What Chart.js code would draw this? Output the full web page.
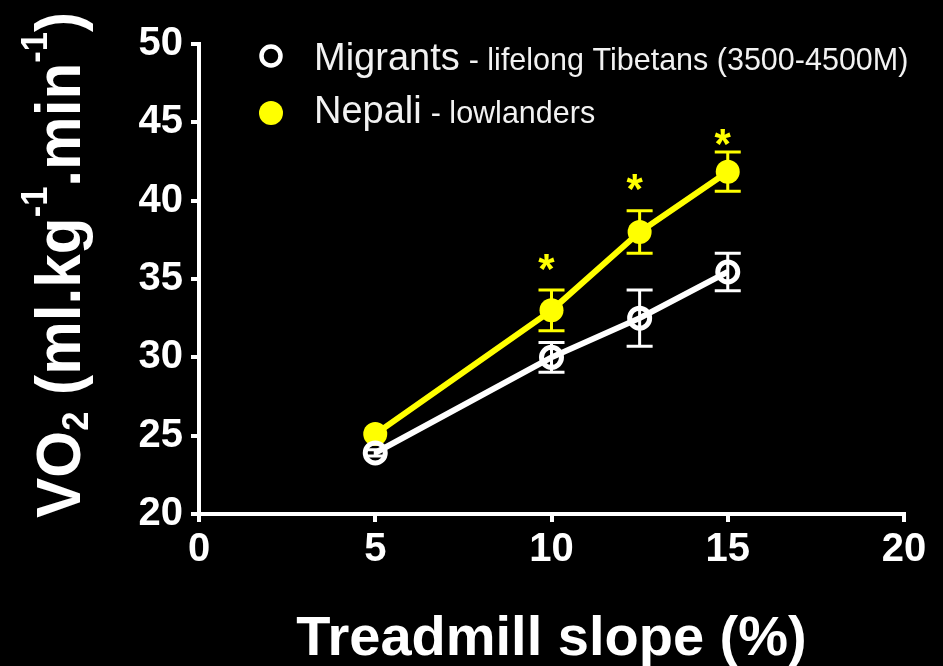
<html>
<head>
    <script src="https://cdn.jsdelivr.net/npm/chart.js@4.4.1/dist/chart.umd.min.js"></script>
    <style>
        body { margin: 0; background: #000; }
        #wrap { width: 943px; height: 666px; position: relative; }
    </style>
</head>
<body>
    <div id="wrap"><canvas id="vo2"></canvas></div>
<script>
    // treadmill slope (%) and VO2 means with their error bars
    var slope = [5, 10, 12.5, 15];
    var migrantsVO2 = [23.9, 30.0, 32.5, 35.45];
    var migrantsErr = [0.2, 0.95, 1.8, 1.2];
    var nepaliVO2 = [25.1, 33.0, 38.0, 41.85];
    var nepaliErr = [0.2, 1.3, 1.35, 1.25];
    // significance asterisks
    var starX = [10, 12.5, 15];
    var starY = [36.0, 41.1, 44.0];

    var yellow = '#ffff00';
    var font = '"Liberation Sans", Arial, sans-serif';

    function points(ys) {
        return slope.map(function(x, i) { return {x: x, y: ys[i]}; });
    }

    var errorBars = {
        id: 'errorBars',
        beforeDatasetsDraw: function(chart) {
            var ctx = chart.ctx, xs = chart.scales.x, ys = chart.scales.y;
            chart.data.datasets.forEach(function(ds) {
                ctx.save();
                ctx.strokeStyle = ds.borderColor;
                ctx.lineWidth = 3;
                ds.data.forEach(function(p, i) {
                    var e = ds.errors[i];
                    var px = xs.getPixelForValue(p.x);
                    var top = ys.getPixelForValue(p.y + e);
                    var bot = ys.getPixelForValue(p.y - e);
                    var cap = e < 0.5 ? 8 : 13;
                    ctx.beginPath();
                    ctx.moveTo(px, top); ctx.lineTo(px, bot);
                    ctx.moveTo(px - cap, top); ctx.lineTo(px + cap, top);
                    ctx.moveTo(px - cap, bot); ctx.lineTo(px + cap, bot);
                    ctx.stroke();
                });
                ctx.restore();
            });
        }
    };

    var extras = {
        id: 'extras',
        afterDraw: function(chart) {
            var ctx = chart.ctx, xs = chart.scales.x, ys = chart.scales.y, area = chart.chartArea;
            ctx.save();

            // asterisks
            ctx.fillStyle = yellow;
            ctx.font = 'bold 42px ' + font;
            ctx.textAlign = 'center';
            ctx.textBaseline = 'middle';
            starX.forEach(function(x, i) {
                ctx.fillText('*', xs.getPixelForValue(x) - 5, ys.getPixelForValue(starY[i]) + 8);
            });

            // legend
            ctx.textAlign = 'left';
            ctx.textBaseline = 'alphabetic';
            ctx.lineWidth = 4.5;
            ctx.strokeStyle = '#fff';
            ctx.beginPath(); ctx.arc(271, 56, 9.5, 0, Math.PI * 2); ctx.stroke();
            ctx.fillStyle = yellow;
            ctx.beginPath(); ctx.arc(271, 113, 12, 0, Math.PI * 2); ctx.fill();

            ctx.fillStyle = '#f2f2f2';
            var rows = [['Migrants', '- lifelong Tibetans (3500-4500M)', 70], ['Nepali', '- lowlanders', 123]];
            rows.forEach(function(r) {
                ctx.font = '38px ' + font;
                ctx.fillText(r[0], 314, r[2]);
                var w = ctx.measureText(r[0]).width;
                ctx.font = '30.5px ' + font;
                ctx.fillText(r[1], 314 + w + 9, r[2]);
            });

            // x axis title
            ctx.fillStyle = '#fff';
            ctx.font = 'bold 56px ' + font;
            ctx.textAlign = 'center';
            ctx.fillText('Treadmill slope (%)', (area.left + area.right) / 2, 655);

            // y axis title with sub/superscripts
            var parts = [
                ['VO', 63, 0], ['2', 36, 8], [' (ml.kg', 63, 0], ['-1', 36, -33],
                ['.min', 63, 0], ['-1', 36, -33], [')', 63, 0]
            ];
            ctx.textAlign = 'left';
            var total = 0;
            parts.forEach(function(p) {
                ctx.font = 'bold ' + p[1] + 'px ' + font;
                p.push(ctx.measureText(p[0]).width);
                total += p[3];
            });
            var sx = 506 / total;
            ctx.translate(80, 518);
            ctx.rotate(-Math.PI / 2);
            ctx.scale(sx, 1);
            var x = 0;
            parts.forEach(function(p) {
                ctx.font = 'bold ' + p[1] + 'px ' + font;
                ctx.fillText(p[0], x, p[2]);
                x += p[3];
            });
            ctx.restore();
        }
    };

    var axisStyle = {
        grid: { display: true, drawOnChartArea: false, drawTicks: true, tickLength: 8, color: '#fff', lineWidth: 4 },
        border: { display: true, color: '#fff', width: 4 },
        ticks: { color: '#fff', font: { family: font, size: 40, weight: 'bold' }, stepSize: 5 }
    };

    new Chart(document.getElementById('vo2'), {
        type: 'line',
        data: {
            datasets: [{
                label: 'Migrants',
                data: points(migrantsVO2),
                errors: migrantsErr,
                borderColor: '#fff',
                backgroundColor: 'rgba(0,0,0,0)',
                borderWidth: 6,
                pointRadius: 10,
                pointBorderWidth: 5,
                pointHoverRadius: 10
            }, {
                label: 'Nepali',
                data: points(nepaliVO2),
                errors: nepaliErr,
                borderColor: yellow,
                backgroundColor: yellow,
                borderWidth: 6,
                pointRadius: 12,
                pointBorderWidth: 0,
                pointHoverRadius: 12
            }]
        },
        options: {
            responsive: true,
            maintainAspectRatio: false,
            animation: false,
            layout: { padding: { top: 44, right: 39, left: 0, bottom: 0 } },
            plugins: { legend: { display: false }, tooltip: { enabled: false } },
            scales: {
                x: Object.assign({}, axisStyle, {
                    type: 'linear', min: 0, max: 20,
                    ticks: Object.assign({}, axisStyle.ticks, { padding: 4 }),
                    afterFit: function(s) { s.height = 152; }
                }),
                y: Object.assign({}, axisStyle, {
                    type: 'linear', min: 20, max: 50,
                    ticks: Object.assign({}, axisStyle.ticks, { padding: 8 }),
                    afterFit: function(s) { s.width = 199; }
                })
            }
        },
        plugins: [errorBars, extras]
    });
</script>
</body>
</html>
